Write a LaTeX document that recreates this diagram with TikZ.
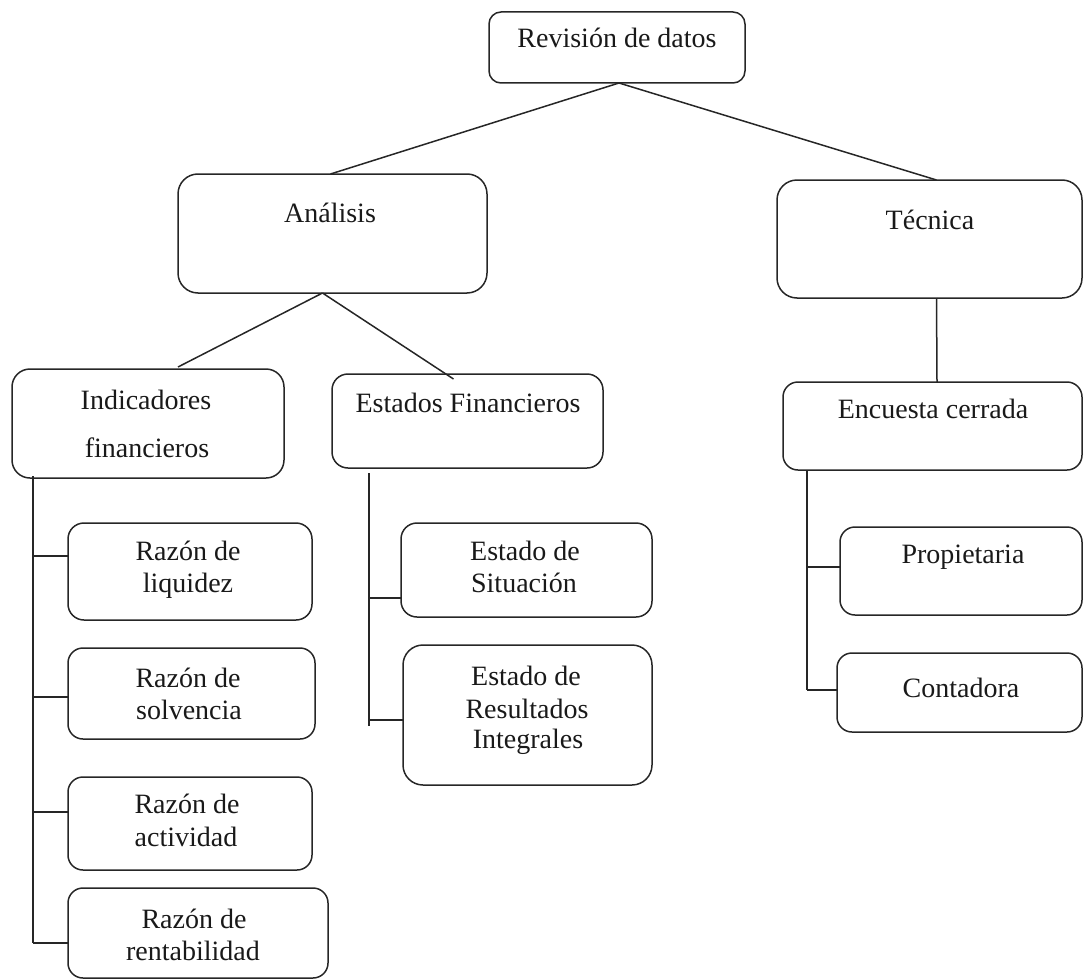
\documentclass[tikz,border=0pt]{standalone}
\usepackage{fontspec}
\setmainfont{Liberation Serif}
\begin{document}
\begin{tikzpicture}[x=1pt,y=-1pt,
  box/.style={draw=black!85, line width=1.5pt, rounded corners=#1, inner sep=0pt, outer sep=0pt},
  txt/.style={font=\fontsize{28}{32}\selectfont, inner sep=0pt, anchor=base, text=black!90},
  conn/.style={draw=black!85, line width=1.5pt}]
\useasboundingbox (0,0) rectangle (1083,979);
% boxes
\node[box=12, minimum width=256, minimum height=71] (rev) at (617,47.5) {};
\node[box=20, minimum width=309, minimum height=119] (ana) at (332.5,233.5) {};
\node[box=20, minimum width=305, minimum height=118] (tec) at (929.5,239) {};
\node[box=18, minimum width=272, minimum height=109] (ind) at (148,423.5) {};
\node[box=16, minimum width=271, minimum height=94] (est) at (467.5,421) {};
\node[box=15, minimum width=299, minimum height=88] (enc) at (932.5,426) {};
\node[box=16, minimum width=244, minimum height=97] (liq) at (190,571.5) {};
\node[box=15, minimum width=247, minimum height=91] (sol) at (191.5,693.5) {};
\node[box=15, minimum width=244, minimum height=93] (act) at (190,823.5) {};
\node[box=15, minimum width=260, minimum height=90] (ren) at (198,933) {};
\node[box=16, minimum width=251, minimum height=94] (sit) at (526.5,570) {};
\node[box=20, minimum width=249, minimum height=140] (res) at (527.5,715) {};
\node[box=15, minimum width=242, minimum height=88] (pro) at (961,571) {};
\node[box=15, minimum width=245, minimum height=79] (con) at (959.5,692.5) {};
% texts
\node[txt] (revT) at (617,48) {Revisión de datos};
\node[txt] (anaT) at (330,222) {Análisis};
\node[txt] (tecT) at (930,229) {Técnica};
\node[txt] (encT) at (933,418) {Encuesta cerrada};
\node[txt] (indT1) at (146,409) {Indicadores};
\node[txt] (indT2) at (147,457) {financieros};
\node[txt] (estT) at (468,412) {Estados Financieros};
\node[txt] (liqT1) at (188,560) {Razón de};
\node[txt] (liqT2) at (188,592) {liquidez};
\node[txt] (solT1) at (188,687) {Razón de};
\node[txt] (solT2) at (189,719) {solvencia};
\node[txt] (actT1) at (187,813) {Razón de};
\node[txt] (actT2) at (186,846) {actividad};
\node[txt] (renT1) at (194,928) {Razón de};
\node[txt] (renT2) at (193,960) {rentabilidad};
\node[txt] (sitT1) at (525,560) {Estado de};
\node[txt] (sitT2) at (524,592) {Situación};
\node[txt] (resT1) at (526,685) {Estado de};
\node[txt] (resT2) at (527,718) {Resultados};
\node[txt] (resT3) at (528,748) {Integrales};
\node[txt] (proT) at (963,563) {Propietaria};
\node[txt] (conT) at (961,697) {Contadora};
% tree connectors
\draw[conn] ([xshift=2pt]rev.south) -- ([xshift=-2pt]ana.north);
\draw[conn] ([xshift=2pt]rev.south) -- ([xshift=7pt]tec.north);
\draw[conn] ([xshift=-10pt]ana.south) -- ([xshift=30pt,yshift=2pt]ind.north);
\draw[conn] ([xshift=-10pt]ana.south) -- ([xshift=-14pt,yshift=-5pt]est.north);
\draw[conn] ([xshift=7pt]tec.south) -- ([xshift=4.5pt]enc.north);
% brackets
\coordinate (ib0) at (33,476);
\coordinate (ib1) at (33,556);
\coordinate (ib2) at (33,697);
\coordinate (ib3) at (33,812);
\coordinate (ib4) at (33,943);
\draw[conn] (ib0) -- (ib4);
\draw[conn] (ib1) -- (ib1 -| liq.west);
\draw[conn] (ib2) -- (ib2 -| sol.west);
\draw[conn] (ib3) -- (ib3 -| act.west);
\draw[conn] (ib4) -- (ib4 -| ren.west);
\coordinate (eb0) at (369,473);
\coordinate (eb1) at (369,598);
\coordinate (eb2) at (369,720);
\coordinate (eb3) at (369,726);
\draw[conn] (eb0) -- (eb3);
\draw[conn] (eb1) -- (eb1 -| sit.west);
\draw[conn] (eb2) -- (eb2 -| res.west);
\coordinate (cb0) at (807,470);
\coordinate (cb1) at (807,567);
\coordinate (cb2) at (807,690);
\draw[conn] (cb0) -- (cb2);
\draw[conn] (cb1) -- (cb1 -| pro.west);
\draw[conn] (cb2) -- (cb2 -| con.west);
\end{tikzpicture}
\end{document}
